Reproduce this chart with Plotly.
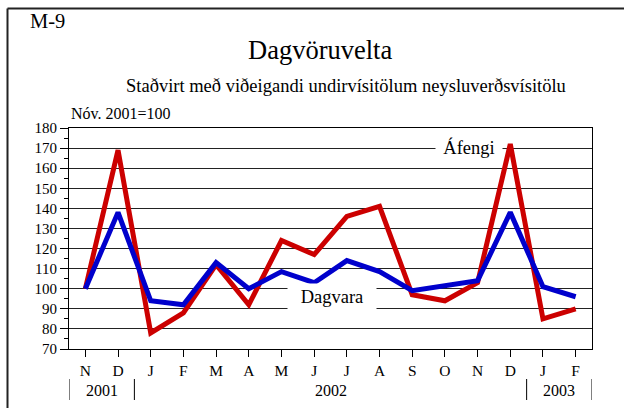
import plotly.graph_objects as go

months = ["N", "D", "J", "F", "M", "A", "M", "J", "J", "A", "S", "O", "N", "D", "J", "F"]
afengi = [100, 169, 78, 88, 112, 92, 124, 117, 136, 141, 97, 94, 103, 172, 85, 90]
dagvara = [100, 138, 94, 92, 113, 100, 108.5, 103, 114, 108.5, 99, 101.5, 104, 138, 101, 96]
years = ["2001", "2002", "2003"]
year_centers = [0.5, 7.5, 14.5]
year_bounds = [-0.5, 1.5, 13.5, 15.5]

W, H = 624, 408
L, R, T, B = 69, 592, 128, 349
FONT = "Liberation Serif, Times New Roman, serif"


def px(x):
    return (x - L) / (R - L)


def py(y):
    return (B - y) / (B - T)


xs = list(range(len(months)))

fig = go.Figure()
fig.add_trace(go.Scatter(x=xs, y=afengi, mode="lines", name="Áfengi",
                         line=dict(color="#CC0000", width=5), showlegend=False))
fig.add_trace(go.Scatter(x=xs, y=dagvara, mode="lines", name="Dagvara",
                         line=dict(color="#0000CC", width=5), showlegend=False))

annotations = [
    dict(text="M-9", x=px(28), y=py(21), xanchor="left", yanchor="middle", font=dict(size=20.5)),
    dict(text="Dagvöruvelta", x=px(320), y=py(50), xanchor="center", yanchor="middle", font=dict(size=26.5)),
    dict(text="Staðvirt með viðeigandi undirvísitölum neysluverðsvísitölu", x=px(346), y=py(86),
         xanchor="center", yanchor="middle", font=dict(size=18.5)),
    dict(text="Nóv. 2001=100", x=px(69), y=py(113), xanchor="left", yanchor="middle", font=dict(size=16)),
    dict(text="Dagvara", x=px(332), y=py(297), xanchor="center", yanchor="middle", font=dict(size=18.5),
         bgcolor="white", borderpad=3, width=82),
    dict(text="Áfengi", x=px(469), y=py(147), xanchor="center", yanchor="middle", font=dict(size=18.5),
         bgcolor="white", borderpad=2, width=62),
]
for yr, c in zip(years, year_centers):
    annotations.append(dict(text=yr, x=c, xref="x", y=py(390), yanchor="middle", xanchor="center",
                            font=dict(size=16)))
for a in annotations:
    a.setdefault("xref", "paper")
    a.setdefault("yref", "paper")
    a["showarrow"] = False

shapes = []
for b in year_bounds:
    shapes.append(dict(type="line", xref="x", yref="paper", x0=b, x1=b, y0=py(379), y1=py(400),
                       line=dict(color="black", width=1)))
# outer frame (top and left edges)
shapes.append(dict(type="line", xref="paper", yref="paper", x0=px(7.5), x1=px(640), y0=py(8.5), y1=py(8.5),
                   line=dict(color="#222", width=2)))
shapes.append(dict(type="line", xref="paper", yref="paper", x0=px(7.5), x1=px(7.5), y0=py(8.5), y1=py(420),
                   line=dict(color="#222", width=2)))

fig.update_layout(
    width=W, height=H,
    margin=dict(l=L, r=W - R, t=T, b=H - B),
    paper_bgcolor="white", plot_bgcolor="white",
    font=dict(family=FONT, size=15, color="black"),
    annotations=annotations, shapes=shapes,
    showlegend=False,
)
fig.update_xaxes(range=[-0.5, 15.5], tickvals=xs, ticktext=months, ticks="outside", ticklen=7,
                 tickcolor="black", showline=True, linecolor="black", linewidth=1, mirror=True,
                 showgrid=False, zeroline=False, tickfont=dict(size=15.5))
fig.update_yaxes(range=[70, 180], dtick=10, ticks="outside", ticklen=8, tickcolor="black",
                 showline=True, linecolor="black", linewidth=1, mirror=True,
                 showgrid=True, gridcolor="#222", gridwidth=1, zeroline=False, tickfont=dict(size=15),
                 minor=dict(ticks="outside", ticklen=4, dtick=5, tickcolor="black", showgrid=False))

fig.write_html("out.html", config={"displayModeBar": False},
               post_script="document.body.style.margin='0';")
